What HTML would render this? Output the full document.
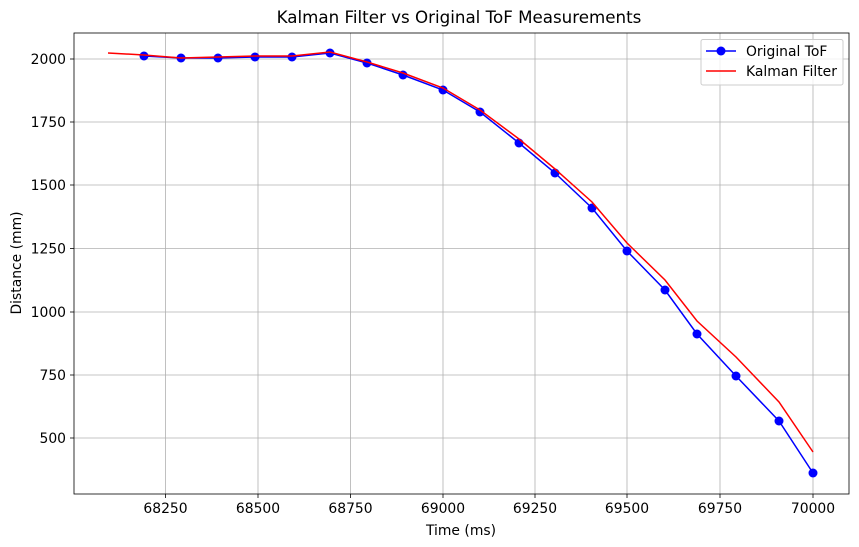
<!DOCTYPE html>
<html><head><meta charset="utf-8"><style>
body{margin:0;background:#fff;}
svg{display:block;font-family:"DejaVu Sans","Liberation Sans",sans-serif;}
</style></head><body>
<svg width="859" height="547" viewBox="0 0 859 547">
<rect width="859" height="547" fill="#fff"/>
<g stroke="#b0b0b0" stroke-width="0.8">
<line x1="165.5" y1="33" x2="165.5" y2="494"/>
<line x1="258" y1="33" x2="258" y2="494"/>
<line x1="350.5" y1="33" x2="350.5" y2="494"/>
<line x1="443" y1="33" x2="443" y2="494"/>
<line x1="535" y1="33" x2="535" y2="494"/>
<line x1="627" y1="33" x2="627" y2="494"/>
<line x1="720" y1="33" x2="720" y2="494"/>
<line x1="813" y1="33" x2="813" y2="494"/>
<line x1="74" y1="59" x2="849" y2="59"/>
<line x1="74" y1="122" x2="849" y2="122"/>
<line x1="74" y1="185" x2="849" y2="185"/>
<line x1="74" y1="248.5" x2="849" y2="248.5"/>
<line x1="74" y1="312" x2="849" y2="312"/>
<line x1="74" y1="375" x2="849" y2="375"/>
<line x1="74" y1="438" x2="849" y2="438"/>
</g>
<rect x="74" y="33" width="775" height="461" fill="none" stroke="#000" stroke-width="0.8"/>
<g stroke="#000" stroke-width="0.8">
<line x1="165.5" y1="494" x2="165.5" y2="498"/><line x1="258" y1="494" x2="258" y2="498"/><line x1="350.5" y1="494" x2="350.5" y2="498"/><line x1="443" y1="494" x2="443" y2="498"/><line x1="535" y1="494" x2="535" y2="498"/><line x1="627" y1="494" x2="627" y2="498"/><line x1="720" y1="494" x2="720" y2="498"/><line x1="813" y1="494" x2="813" y2="498"/>
<line x1="70" y1="59" x2="74" y2="59"/><line x1="70" y1="122" x2="74" y2="122"/><line x1="70" y1="185" x2="74" y2="185"/><line x1="70" y1="248.5" x2="74" y2="248.5"/><line x1="70" y1="312" x2="74" y2="312"/><line x1="70" y1="375" x2="74" y2="375"/><line x1="70" y1="438" x2="74" y2="438"/>
</g>
<g font-size="13.9" fill="#000" text-anchor="middle">
<text x="165.5" y="513">68250</text><text x="258" y="513">68500</text><text x="350.5" y="513">68750</text><text x="443" y="513">69000</text><text x="535" y="513">69250</text><text x="627" y="513">69500</text><text x="720" y="513">69750</text><text x="813" y="513">70000</text>
<text x="461" y="535">Time (ms)</text>
<text x="459" y="23" font-size="16.7">Kalman Filter vs Original ToF Measurements</text>
</g>
<g font-size="13.9" fill="#000" text-anchor="end">
<text x="66" y="64">2000</text><text x="66" y="127">1750</text><text x="66" y="190">1500</text><text x="66" y="253.5">1250</text><text x="66" y="317">1000</text><text x="66" y="380">750</text><text x="66" y="443">500</text>
</g>
<text transform="translate(21,263) rotate(-90)" font-size="13.9" text-anchor="middle">Distance (mm)</text>
<polyline fill="none" stroke="#0000ff" stroke-width="1.5" points="144,56 181,58 218,58 255,57 292,57 330,53 367,63 403,75 443,90 480,112 519,143 555,173 592,208 627,251 665,290 697,334 736,376 779,421 813,473"/>
<g fill="#0000ff">
<circle cx="144" cy="56" r="4.5"/><circle cx="181" cy="58" r="4.5"/><circle cx="218" cy="58" r="4.5"/><circle cx="255" cy="57" r="4.5"/><circle cx="292" cy="57" r="4.5"/><circle cx="330" cy="53" r="4.5"/><circle cx="367" cy="63" r="4.5"/><circle cx="403" cy="75" r="4.5"/><circle cx="443" cy="90" r="4.5"/><circle cx="480" cy="112" r="4.5"/><circle cx="519" cy="143" r="4.5"/><circle cx="555" cy="173" r="4.5"/><circle cx="592" cy="208" r="4.5"/><circle cx="627" cy="251" r="4.5"/><circle cx="665" cy="290" r="4.5"/><circle cx="697" cy="334" r="4.5"/><circle cx="736" cy="376" r="4.5"/><circle cx="779" cy="421" r="4.5"/><circle cx="813" cy="473" r="4.5"/>
</g>
<polyline fill="none" stroke="#ff0000" stroke-width="1.5" points="108,53 144,55 181,58 218,57 255,56 292,56 330,52 367,62 403,73 443,88 480,110 519,139 555,169 592,202 627,243 665,280 697,321 736,357 779,402 813,452"/>
<rect x="701" y="39.5" width="142" height="45.5" fill="#fff" fill-opacity="0.8" stroke="#ccc" rx="2"/>
<line x1="706" y1="51" x2="736" y2="51" stroke="#0000ff" stroke-width="1.5"/>
<circle cx="721" cy="51" r="4.5" fill="#0000ff"/>
<text x="746" y="56" font-size="13.9">Original ToF</text>
<line x1="706" y1="71" x2="736" y2="71" stroke="#ff0000" stroke-width="1.5"/>
<text x="746" y="76" font-size="13.9">Kalman Filter</text>
</svg>
</body></html>
